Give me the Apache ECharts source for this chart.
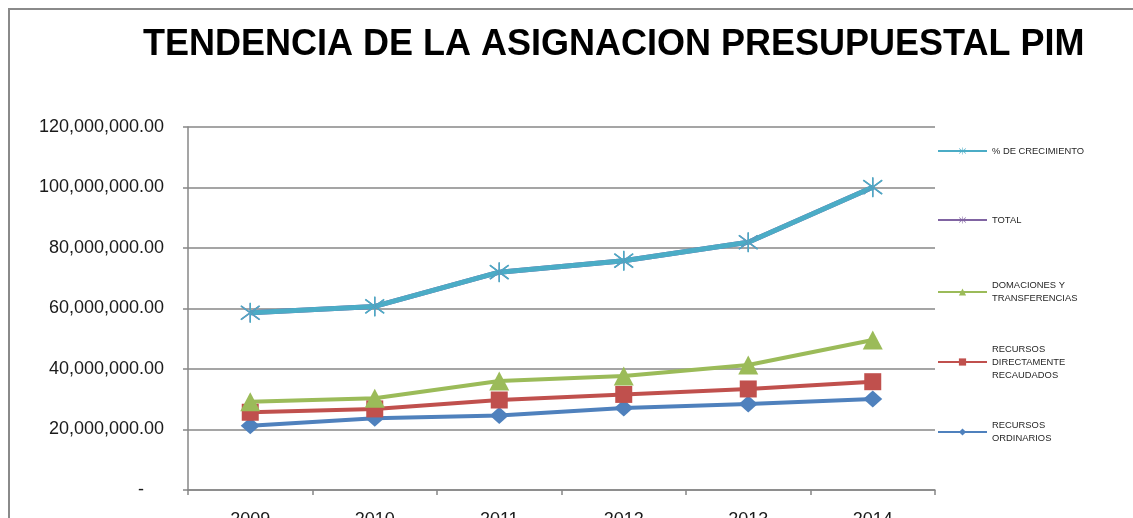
<!DOCTYPE html>
<html>
<head>
<meta charset="UTF-8">
<title>Tendencia PIM</title>
<script src="https://cdn.jsdelivr.net/npm/echarts@6/dist/echarts.min.js"></script>
<style>
html,body{margin:0;padding:0;background:#fff}
#main{width:1133px;height:518px}
</style>
</head>
<body>
<div id="main"></div>
<script>
// datos
var anios = ['2009', '2010', '2011', '2012', '2013', '2014'];
var ordinarios = [21200000, 23700000, 24600000, 27100000, 28400000, 30100000];
var recaudados = [25700000, 26800000, 29750000, 31600000, 33400000, 35800000];
var donaciones = [29200000, 30300000, 36000000, 37700000, 41300000, 49600000];
var total = [58600000, 60700000, 72000000, 75800000, 81900000, 100100000];
var crecimiento = [58600000, 60700000, 72000000, 75800000, 81900000, 100100000];
var ticksY = [0, 20000000, 40000000, 60000000, 80000000, 100000000, 120000000];

var gris = '#878787';
var fuente = '"Liberation Sans", Arial, sans-serif';
// asterisco tipo Excel
var estrella = 'path://M9.3,0L10.7,0L10.7,20L9.3,20Z' +
	'M1.46,2.41L19.46,16.41L18.54,17.59L0.54,3.59Z' +
	'M1.46,17.59L19.46,3.59L18.54,2.41L0.54,16.41Z';

function fmt(v){
	if(v === 0) return '-    ';
	return v.toFixed(2).replace(/\B(?=(\d{3})+(?!\d))/g, ',');
}

function leyenda(nombre, top, lineas){
	return {
		data: [nombre],
		left: 937,
		top: top,
		padding: 0,
		itemWidth: 49,
		itemHeight: 9,
		selectedMode: false,
		textStyle: {
			fontFamily: fuente,
			fontSize: 9.4,
			color: '#262626',
			lineHeight: 13,
			padding: [(lineas - 1) * 13, 0, 0, 0]
		}
	};
}

var chart = echarts.init(document.getElementById('main'));
chart.setOption({
	animation: false,
	title: {
		text: 'TENDENCIA DE LA ASIGNACION PRESUPUESTAL PIM',
		left: 143,
		top: 27,
		padding: 0,
		textStyle: {
			fontFamily: fuente,
			fontWeight: 'bold',
			fontSize: 36,
			color: '#000'
		}
	},
	graphic: [{
		type: 'polyline',
		shape: {points: [[9, 518], [9, 9], [1133, 9]]},
		style: {stroke: '#8a8a8a', lineWidth: 2, fill: null}
	}],
	legend: [
		leyenda('% DE CRECIMIENTO', 144.5, 1),
		leyenda('TOTAL', 213.5, 1),
		leyenda('DOMACIONES Y\nTRANSFERENCIAS', 272.5, 2),
		leyenda('RECURSOS\nDIRECTAMENTE\nRECAUDADOS', 329.5, 3),
		leyenda('RECURSOS\nORDINARIOS', 412.5, 2)
	],
	grid: {left: 188, right: 198, top: 127, bottom: 28, outerBoundsMode: 'none'},
	xAxis: {
		type: 'category',
		data: anios,
		boundaryGap: true,
		axisLine: {lineStyle: {color: gris, width: 1.5}},
		axisTick: {show: true, length: 5, lineStyle: {color: gris, width: 1.5}},
		axisLabel: {margin: 21, fontFamily: fuente, fontSize: 18, color: '#1a1a1a'}
	},
	yAxis: {
		type: 'value',
		min: ticksY[0],
		max: ticksY[ticksY.length - 1],
		interval: ticksY[1] - ticksY[0],
		axisLine: {show: true, lineStyle: {color: gris, width: 1.5}},
		axisTick: {show: true, length: 5, lineStyle: {color: gris, width: 1.5}},
		splitLine: {lineStyle: {color: gris, width: 1.5}},
		axisLabel: {margin: 24, fontFamily: fuente, fontSize: 18, color: '#1a1a1a', formatter: fmt}
	},
	series: [
		{
			name: 'RECURSOS\nORDINARIOS', type: 'line', data: ordinarios,
			symbol: 'diamond', symbolSize: [19, 17],
			color: '#4F81BD', lineStyle: {width: 4}
		},
		{
			name: 'RECURSOS\nDIRECTAMENTE\nRECAUDADOS', type: 'line', data: recaudados,
			symbol: 'rect', symbolSize: 17,
			color: '#C0504D', lineStyle: {width: 4}
		},
		{
			name: 'DOMACIONES Y\nTRANSFERENCIAS', type: 'line', data: donaciones,
			symbol: 'triangle', symbolSize: [20, 19],
			color: '#9BBB59', lineStyle: {width: 4}
		},
		{
			name: 'TOTAL', type: 'line', data: total,
			symbol: estrella, symbolSize: 19,
			color: '#8064A2', lineStyle: {width: 5}
		},
		{
			name: '% DE CRECIMIENTO', type: 'line', data: crecimiento,
			symbol: estrella, symbolSize: 20,
			color: '#4BACC6', lineStyle: {width: 5}
		}
	]
});
</script>
</body>
</html>
